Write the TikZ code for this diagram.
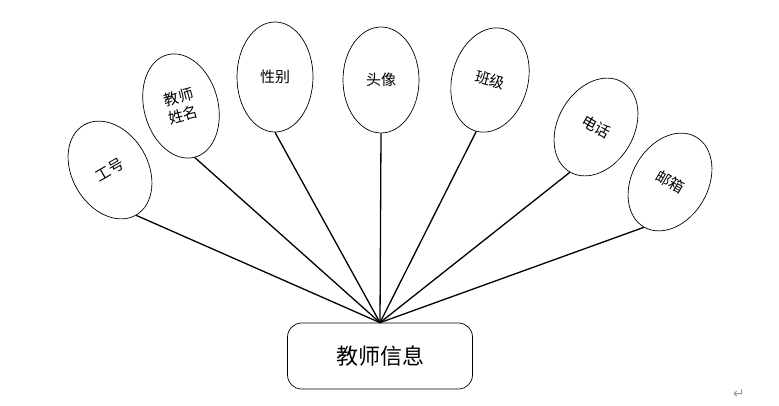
\documentclass[tikz,border=0pt]{standalone}
\usepackage{fontspec}
\usepackage{xcolor}
\usetikzlibrary{shapes.geometric}
\newfontfamily\cjkfont{Noto Sans CJK SC}
\newfontfamily\symfont{DejaVu Sans}
\definecolor{markgray}{HTML}{9A9A9A}
\newcommand{\attrfont}{\cjkfont\fontsize{15}{18}\selectfont}
\newcommand{\entityfont}{\cjkfont\fontsize{22}{26}\selectfont}
\tikzset{
  attr/.style={ellipse, draw, line width=0.7pt, inner sep=0pt,
               minimum width=76pt, minimum height=104pt,
               font=\attrfont, align=center},
  link/.style={line width=1.3pt},
}

\begin{document}
\begin{tikzpicture}[x=1pt,y=-1pt]
\useasboundingbox (0,0) rectangle (779,405);
% attributes
\node[attr, rotate=30] (gonghao) at (110,170) {工号};
\node[attr, rotate=15, minimum width=74pt, minimum height=106pt] (xingming) at (181,106) {教师\\姓名};
\node[attr, minimum height=110pt] (xingbie) at (275,77) {性别};
\node[attr, minimum height=106pt] (touxiang) at (381,80) {头像};
\node[attr, rotate=-15, minimum height=106pt] (banji) at (490,80) {班级};
\node[attr, rotate=-30] (dianhua) at (596,127) {电话};
\node[attr, rotate=-30] (youxiang) at (670,182) {邮箱};
% entity
\node[draw, rounded corners=14pt, line width=0.7pt, minimum width=185pt,
      minimum height=66pt, font=\entityfont] (info) at (380,356) {教师信息};
\foreach \a in {gonghao,xingming,xingbie,touxiang,banji,dianhua,youxiang}
  \draw[link] (\a.south) -- (info.north);
\node[text=markgray, font=\symfont\fontsize{14}{15}\selectfont] (mark) at (739,394) {↵};
\end{tikzpicture}
\end{document}
